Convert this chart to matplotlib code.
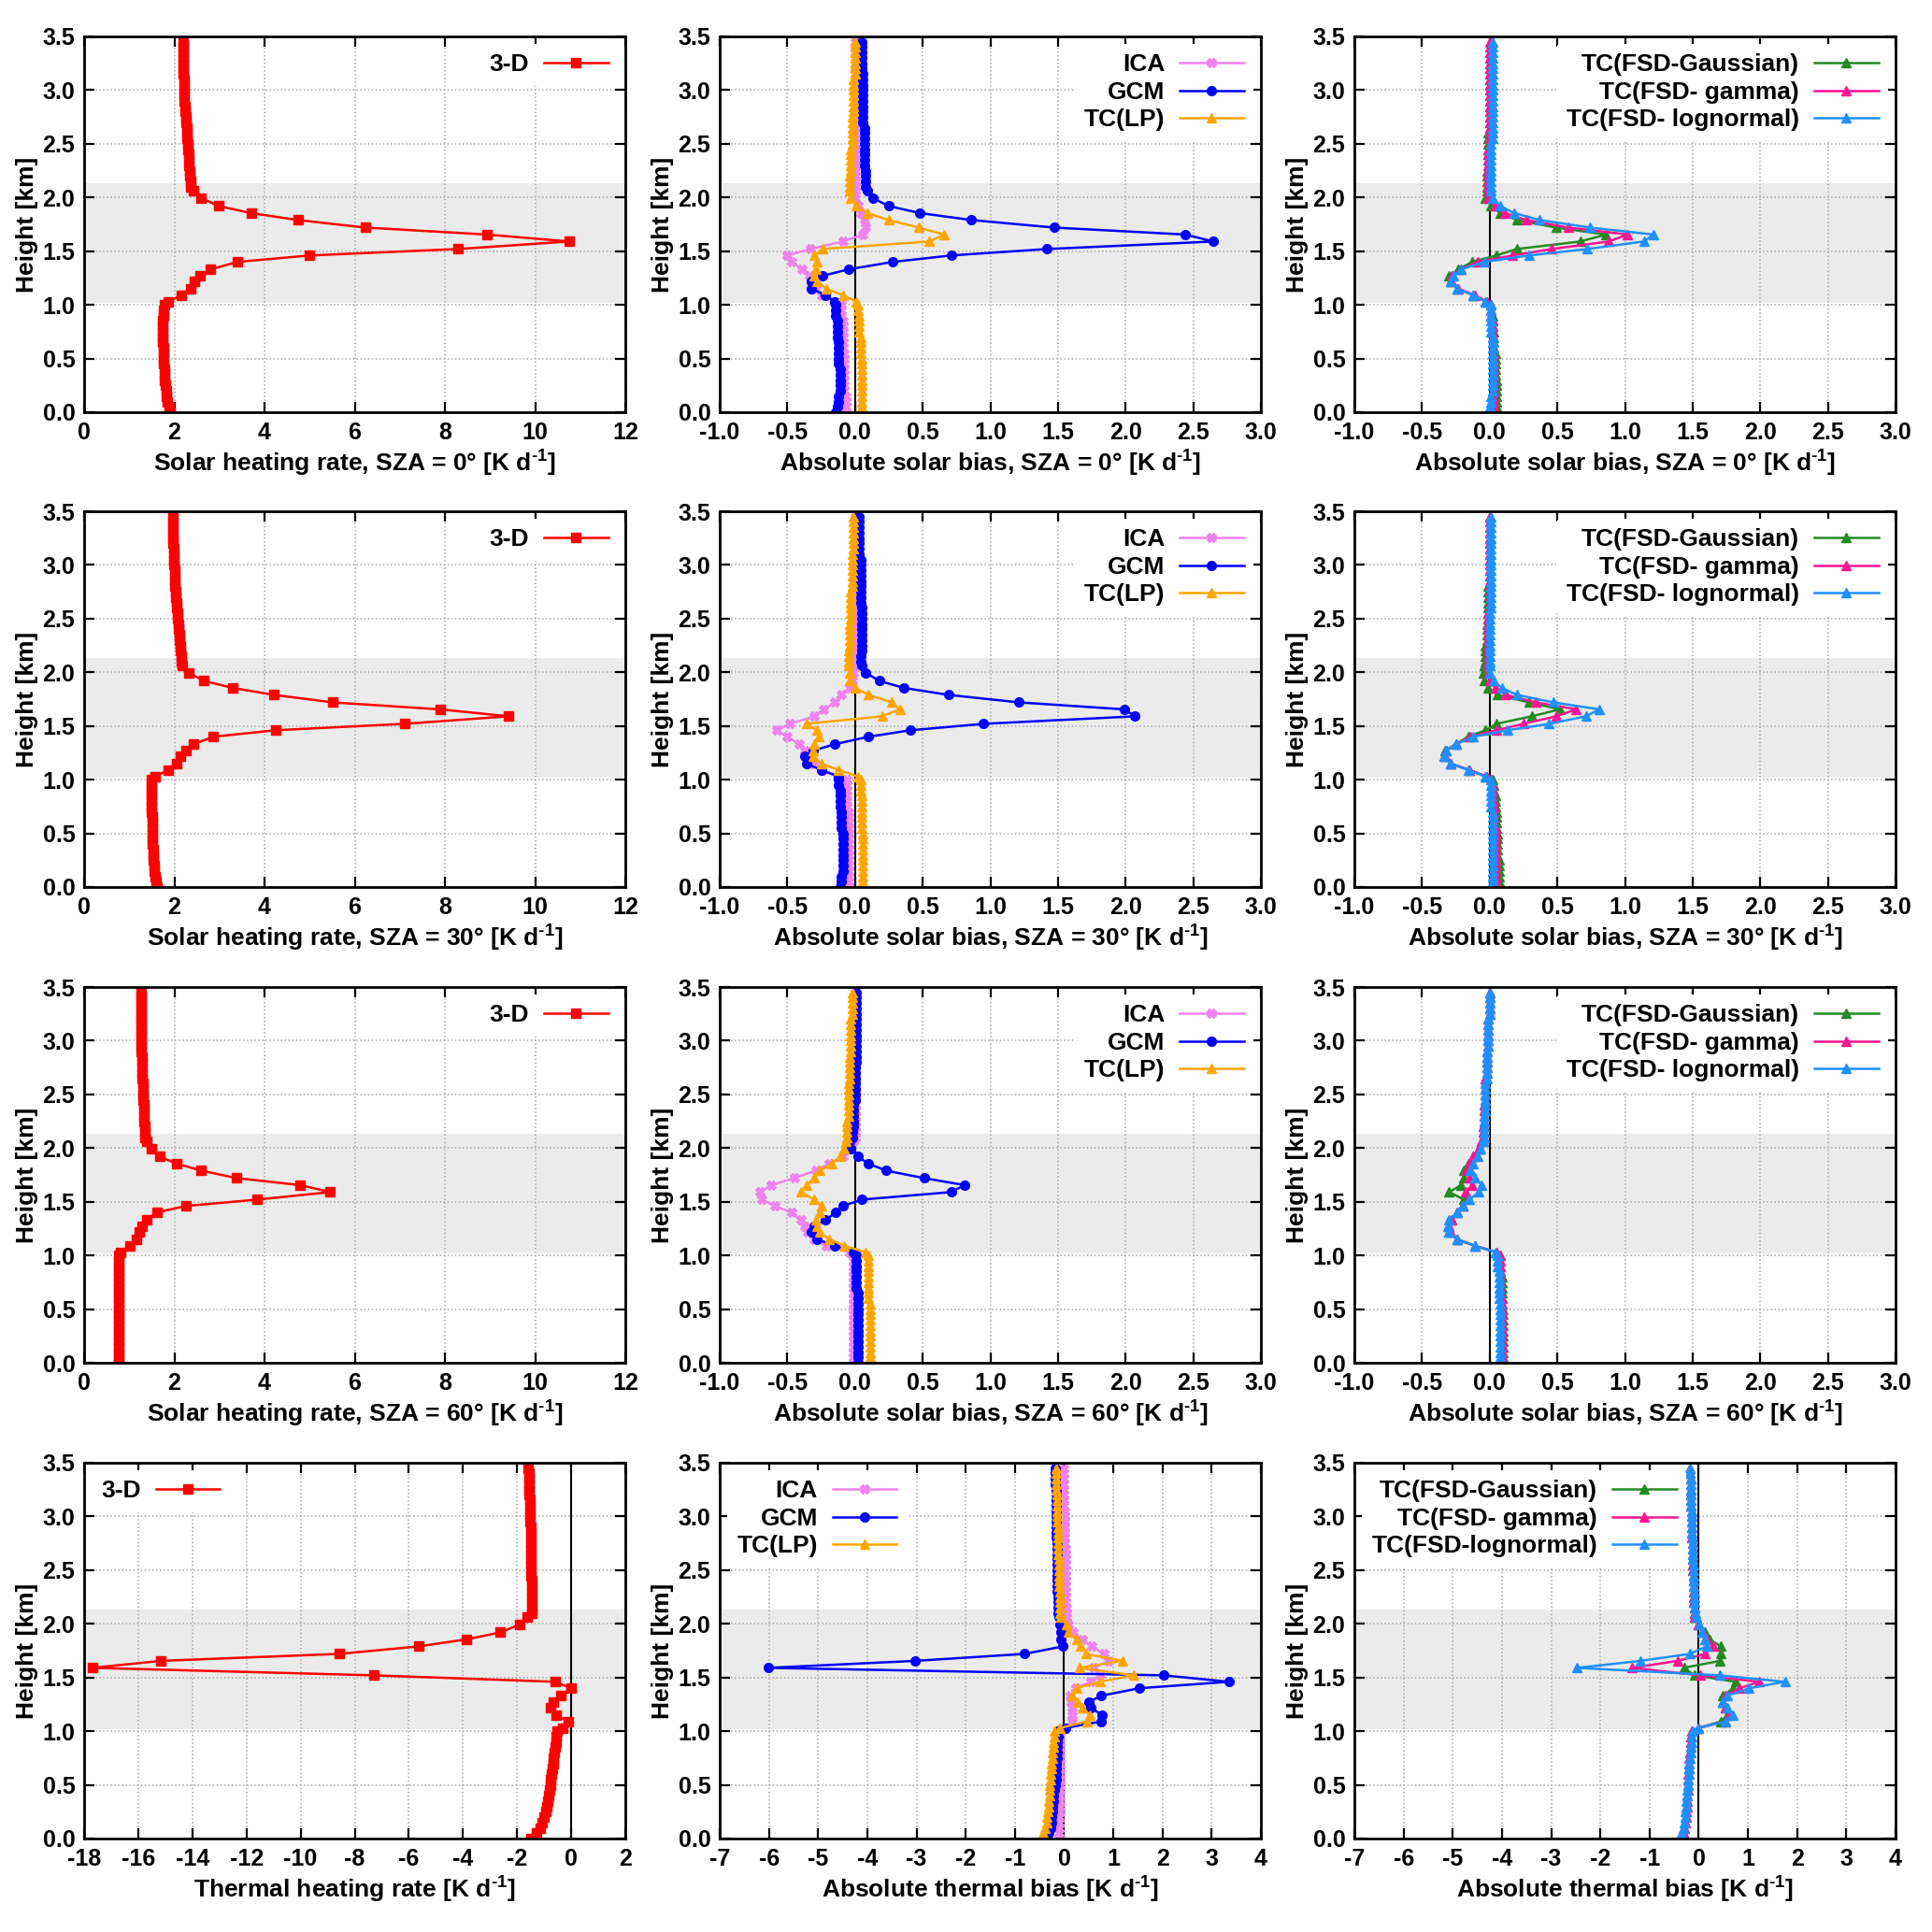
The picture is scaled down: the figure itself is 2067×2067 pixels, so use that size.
import matplotlib
matplotlib.use("Agg")
import matplotlib.pyplot as plt
from matplotlib.ticker import FormatStrFormatter

plt.rcParams['font.family'] = ['Liberation Sans Narrow', 'Liberation Sans', 'DejaVu Sans']
plt.rcParams['font.weight'] = 'bold'
plt.rcParams['axes.labelweight'] = 'bold'
plt.rcParams['mathtext.fontset'] = 'custom'
plt.rcParams['mathtext.rm'] = 'Liberation Sans:bold'
plt.rcParams['mathtext.it'] = 'Liberation Sans:bold'
plt.rcParams['mathtext.bf'] = 'Liberation Sans:bold'

# height levels [km]: below cloud / in cloud / above cloud
Z = [0.00, 0.05, 0.10, 0.15, 0.20, 0.25, 0.30, 0.35, 0.40, 0.45, 0.50, 0.55, 0.60, 0.65, 0.70, 0.75, 0.80, 0.85, 0.90, 0.95, 1.00,
     1.03, 1.09, 1.15, 1.22, 1.27, 1.33, 1.40, 1.46, 1.52, 1.59, 1.655, 1.72, 1.79, 1.855, 1.92, 1.995, 2.06,
     2.10, 2.15, 2.20, 2.25, 2.30, 2.35, 2.40, 2.45, 2.50, 2.55, 2.60, 2.65, 2.70, 2.75, 2.80, 2.85, 2.90, 2.95,
     3.00, 3.05, 3.10, 3.15, 3.20, 3.25, 3.30, 3.35, 3.40, 3.45]

# ---- 3-D heating rates ----
hr3d_0 = [1.91, 1.88, 1.85, 1.83, 1.82, 1.80, 1.79, 1.78, 1.78, 1.77, 1.77, 1.76, 1.76, 1.75, 1.75, 1.75, 1.75, 1.75, 1.76, 1.77, 1.78,
          1.86, 2.16, 2.36, 2.45, 2.58, 2.80, 3.40, 5.00, 8.29, 10.75, 8.93, 6.23, 4.74, 3.70, 2.98, 2.60, 2.43,
          2.37, 2.36, 2.35, 2.34, 2.33, 2.33, 2.32, 2.31, 2.30, 2.29, 2.28, 2.27, 2.26, 2.25, 2.24, 2.23, 2.22, 2.22, 2.21, 2.21,
          2.21, 2.20, 2.20, 2.20, 2.20, 2.20, 2.20, 2.20]
hr3d_30 = [1.61, 1.59, 1.57, 1.56, 1.55, 1.54, 1.53, 1.53, 1.52, 1.52, 1.52, 1.51, 1.51, 1.51, 1.50, 1.50, 1.50, 1.50, 1.50, 1.50, 1.50,
           1.57, 1.87, 2.05, 2.13, 2.25, 2.42, 2.87, 4.24, 7.10, 9.41, 7.89, 5.51, 4.20, 3.29, 2.66, 2.32, 2.18,
           2.16, 2.15, 2.14, 2.13, 2.12, 2.11, 2.10, 2.09, 2.08, 2.07, 2.06, 2.05, 2.04, 2.03, 2.02, 2.01, 2.00, 2.00, 1.99, 1.99,
           1.98, 1.98, 1.97, 1.97, 1.97, 1.96, 1.96, 1.96]
hr3d_60 = [0.77, 0.77, 0.77, 0.76, 0.76, 0.76, 0.76, 0.76, 0.76, 0.76, 0.76, 0.76, 0.76, 0.76, 0.76, 0.76, 0.76, 0.76, 0.76, 0.76, 0.76,
           0.81, 1.02, 1.17, 1.23, 1.29, 1.38, 1.61, 2.25, 3.84, 5.46, 4.79, 3.38, 2.60, 2.05, 1.68, 1.50, 1.38,
           1.35, 1.34, 1.34, 1.33, 1.33, 1.32, 1.32, 1.31, 1.31, 1.30, 1.30, 1.29, 1.29, 1.28, 1.28, 1.28, 1.27, 1.27, 1.27, 1.27,
           1.26, 1.26, 1.26, 1.26, 1.26, 1.26, 1.26, 1.26]
hr3d_lw = [-1.48, -1.28, -1.13, -1.06, -1.00, -0.95, -0.90, -0.86, -0.83, -0.80, -0.77, -0.75, -0.72, -0.70, -0.67, -0.65, -0.62, -0.60, -0.57, -0.55, -0.52,
           -0.32, -0.10, -0.56, -0.78, -0.67, -0.40, 0.00, -0.59, -7.28, -17.69, -15.16, -8.57, -5.63, -3.87, -2.62, -1.89, -1.62,
           -1.46, -1.46, -1.46, -1.47, -1.47, -1.47, -1.47, -1.48, -1.48, -1.48, -1.48, -1.49, -1.49, -1.49, -1.50, -1.50, -1.50, -1.51, -1.51, -1.52,
           -1.53, -1.54, -1.55, -1.55, -1.56, -1.57, -1.57, -1.58]

# ---- ICA / GCM / TC(LP) biases ----
ica_0 = [-0.07, -0.07, -0.07, -0.07, -0.08, -0.08, -0.08, -0.08, -0.08, -0.08, -0.08, -0.08, -0.09, -0.09, -0.09, -0.09, -0.09, -0.09, -0.10, -0.10, -0.10,
         -0.15, -0.25, -0.29, -0.32, -0.34, -0.39, -0.47, -0.50, -0.33, -0.09, 0.06, 0.08, 0.07, 0.04, 0.02, 0.00, 0.00,
         0.00, 0.00, 0.00, 0.00, 0.00, 0.00, 0.00, 0.00, 0.00, 0.00, 0.00, 0.00, 0.00, 0.00, 0.00, 0.00, 0.00, 0.00, 0.00, 0.00,
         0.00, 0.00, 0.00, 0.00, 0.00, 0.00, 0.00, 0.00]
gcm_0 = [-0.14, -0.13, -0.12, -0.12, -0.11, -0.11, -0.11, -0.11, -0.11, -0.12, -0.12, -0.12, -0.12, -0.12, -0.13, -0.13, -0.13, -0.13, -0.14, -0.14, -0.14,
         -0.15, -0.22, -0.32, -0.32, -0.24, -0.05, 0.28, 0.71, 1.42, 2.65, 2.44, 1.47, 0.86, 0.48, 0.25, 0.13, 0.09,
         0.08, 0.08, 0.08, 0.08, 0.07, 0.07, 0.07, 0.07, 0.07, 0.07, 0.07, 0.07, 0.06, 0.06, 0.06, 0.06, 0.06, 0.06, 0.06, 0.06,
         0.06, 0.06, 0.05, 0.05, 0.05, 0.05, 0.05, 0.05]
lp_0 = [0.04, 0.05, 0.05, 0.05, 0.05, 0.05, 0.05, 0.05, 0.05, 0.05, 0.05, 0.04, 0.04, 0.04, 0.04, 0.03, 0.03, 0.03, 0.03, 0.02, 0.02,
        0.01, -0.09, -0.21, -0.28, -0.30, -0.29, -0.28, -0.30, -0.24, 0.55, 0.66, 0.47, 0.25, 0.09, 0.01, -0.03, -0.04,
        -0.04, -0.04, -0.04, -0.03, -0.03, -0.03, -0.03, -0.03, -0.02, -0.02, -0.02, -0.02, -0.02, -0.02, -0.01, -0.01, -0.01, -0.01, -0.01, -0.01,
        -0.01, 0.00, 0.00, 0.00, 0.00, 0.00, 0.00, 0.00]

ica_30 = [-0.05, -0.05, -0.05, -0.05, -0.05, -0.05, -0.05, -0.05, -0.05, -0.05, -0.05, -0.05, -0.05, -0.05, -0.05, -0.06, -0.06, -0.06, -0.06, -0.06, -0.06,
          -0.13, -0.25, -0.30, -0.33, -0.37, -0.41, -0.50, -0.58, -0.48, -0.30, -0.23, -0.15, -0.10, -0.04, -0.02, -0.01, -0.01,
          0.00, 0.00, 0.00, 0.00, 0.00, 0.00, 0.00, 0.00, 0.00, 0.00, 0.00, 0.00, 0.00, 0.00, 0.00, 0.00, 0.00, 0.00, 0.00, 0.00,
          0.00, 0.00, 0.00, 0.00, 0.00, 0.00, 0.00, 0.00]
gcm_30 = [-0.11, -0.10, -0.10, -0.09, -0.09, -0.09, -0.09, -0.09, -0.09, -0.09, -0.09, -0.10, -0.10, -0.10, -0.10, -0.11, -0.11, -0.11, -0.11, -0.12, -0.12,
          -0.12, -0.25, -0.36, -0.37, -0.31, -0.15, 0.10, 0.41, 0.95, 2.07, 1.99, 1.21, 0.69, 0.36, 0.18, 0.08, 0.05,
          0.04, 0.04, 0.05, 0.05, 0.05, 0.05, 0.05, 0.05, 0.05, 0.05, 0.05, 0.04, 0.04, 0.04, 0.04, 0.04, 0.04, 0.04, 0.04, 0.04,
          0.03, 0.03, 0.03, 0.03, 0.03, 0.03, 0.03, 0.03]
lp_30 = [0.06, 0.06, 0.06, 0.06, 0.06, 0.06, 0.06, 0.06, 0.06, 0.06, 0.06, 0.05, 0.05, 0.05, 0.05, 0.05, 0.05, 0.05, 0.04, 0.04, 0.04,
         0.02, -0.12, -0.25, -0.31, -0.31, -0.30, -0.27, -0.28, -0.36, 0.20, 0.33, 0.27, 0.10, 0.00, -0.04, -0.04, -0.05,
         -0.05, -0.05, -0.05, -0.04, -0.04, -0.04, -0.04, -0.04, -0.03, -0.03, -0.03, -0.03, -0.03, -0.03, -0.02, -0.02, -0.02, -0.02, -0.02, -0.02,
         -0.02, -0.01, -0.01, -0.01, -0.01, -0.01, -0.01, -0.01]

ica_60 = [-0.01, -0.01, -0.01, -0.01, -0.01, -0.01, -0.01, -0.01, -0.01, -0.01, -0.01, -0.01, -0.01, -0.01, -0.01, -0.01, -0.01, -0.01, -0.01, -0.01, -0.01,
          -0.04, -0.21, -0.30, -0.35, -0.37, -0.40, -0.47, -0.59, -0.69, -0.70, -0.62, -0.45, -0.29, -0.19, -0.09, -0.04, -0.01,
          0.00, 0.00, 0.00, 0.00, 0.00, 0.00, 0.00, 0.00, 0.00, 0.00, 0.00, 0.00, 0.00, 0.00, 0.00, 0.00, 0.00, 0.00, 0.00, 0.00,
          0.00, 0.00, 0.00, 0.00, 0.00, 0.00, 0.00, 0.00]
gcm_60 = [0.02, 0.02, 0.02, 0.02, 0.02, 0.02, 0.02, 0.02, 0.02, 0.02, 0.02, 0.02, 0.02, 0.02, 0.01, 0.01, 0.01, 0.01, 0.01, 0.01, 0.01,
          -0.01, -0.15, -0.28, -0.32, -0.30, -0.22, -0.14, -0.09, 0.05, 0.71, 0.81, 0.51, 0.23, 0.10, 0.02, -0.03, -0.04,
          -0.02, -0.02, -0.01, -0.01, -0.01, -0.01, -0.01, 0.00, 0.00, 0.00, 0.00, 0.00, 0.00, 0.00, 0.01, 0.01, 0.01, 0.01, 0.01, 0.01,
          0.01, 0.01, 0.01, 0.01, 0.01, 0.01, 0.01, 0.01]
lp_60 = [0.11, 0.11, 0.11, 0.11, 0.11, 0.11, 0.11, 0.11, 0.11, 0.11, 0.11, 0.11, 0.10, 0.10, 0.10, 0.10, 0.10, 0.10, 0.10, 0.10, 0.10,
         0.08, -0.08, -0.19, -0.26, -0.28, -0.29, -0.26, -0.25, -0.30, -0.40, -0.36, -0.30, -0.26, -0.17, -0.11, -0.08, -0.07,
         -0.06, -0.06, -0.06, -0.06, -0.05, -0.05, -0.05, -0.05, -0.05, -0.05, -0.05, -0.04, -0.04, -0.04, -0.04, -0.04, -0.03, -0.03, -0.03, -0.03,
         -0.03, -0.03, -0.03, -0.02, -0.02, -0.02, -0.02, -0.02]

ica_lw = [-0.11, -0.10, -0.10, -0.10, -0.10, -0.09, -0.09, -0.09, -0.09, -0.09, -0.08, -0.08, -0.08, -0.08, -0.08, -0.08, -0.08, -0.08, -0.08, -0.08, -0.08,
          -0.04, 0.17, 0.17, 0.17, 0.15, 0.13, 0.23, 0.54, 0.74, 0.60, 0.91, 0.80, 0.57, 0.38, 0.18, 0.08, 0.04,
          0.04, 0.04, 0.03, 0.03, 0.03, 0.03, 0.03, 0.02, 0.02, 0.02, 0.02, 0.02, 0.02, 0.01, 0.01, 0.01, 0.01, 0.01, 0.01, 0.01,
          0.00, 0.00, 0.00, 0.00, 0.00, 0.00, 0.00, 0.00]
gcm_lw = [-0.35, -0.31, -0.28, -0.26, -0.25, -0.24, -0.23, -0.22, -0.21, -0.20, -0.18, -0.17, -0.17, -0.16, -0.16, -0.15, -0.15, -0.14, -0.14, -0.13, -0.13,
          0.02, 0.75, 0.77, 0.54, 0.50, 0.75, 1.53, 3.35, 2.03, -6.01, -3.02, -0.80, -0.02, -0.06, -0.07, -0.08, -0.11,
          -0.13, -0.13, -0.13, -0.13, -0.14, -0.14, -0.14, -0.14, -0.14, -0.15, -0.15, -0.15, -0.15, -0.15, -0.16, -0.16, -0.16, -0.16, -0.17, -0.17,
          -0.17, -0.17, -0.17, -0.17, -0.18, -0.18, -0.18, -0.18]
lp_lw = [-0.46, -0.42, -0.38, -0.36, -0.35, -0.33, -0.32, -0.31, -0.30, -0.29, -0.29, -0.28, -0.27, -0.26, -0.25, -0.24, -0.23, -0.22, -0.21, -0.20, -0.19,
         -0.08, 0.46, 0.52, 0.38, 0.27, 0.17, 0.25, 0.73, 1.41, 0.32, 1.19, 0.44, 0.34, 0.25, 0.08, 0.04, -0.06,
         -0.08, -0.08, -0.09, -0.09, -0.09, -0.10, -0.10, -0.10, -0.11, -0.11, -0.11, -0.12, -0.12, -0.12, -0.13, -0.13, -0.13, -0.14, -0.14, -0.14,
         -0.15, -0.15, -0.15, -0.16, -0.16, -0.16, -0.17, -0.17]

# ---- TC with FSD: Gaussian / gamma / lognormal ----
gau_0 = [0.05, 0.05, 0.05, 0.05, 0.05, 0.05, 0.05, 0.04, 0.04, 0.04, 0.04, 0.04, 0.03, 0.03, 0.03, 0.03, 0.02, 0.02, 0.02, 0.01, 0.01,
         -0.03, -0.12, -0.24, -0.29, -0.30, -0.23, -0.13, 0.05, 0.20, 0.67, 0.86, 0.49, 0.20, 0.08, 0.01, -0.03, -0.02,
         -0.02, -0.02, -0.02, -0.02, -0.01, -0.01, -0.01, -0.01, -0.01, -0.01, -0.01, 0.00, 0.00, 0.00, 0.00, 0.00, 0.00, 0.00, 0.00, 0.00,
         0.00, 0.00, 0.00, 0.00, 0.00, 0.00, 0.01, 0.01]
gam_0 = [0.03, 0.03, 0.03, 0.03, 0.03, 0.03, 0.03, 0.03, 0.03, 0.03, 0.03, 0.03, 0.02, 0.02, 0.02, 0.02, 0.02, 0.02, 0.01, 0.01, 0.01,
         -0.02, -0.11, -0.23, -0.28, -0.28, -0.21, -0.09, 0.17, 0.46, 0.88, 1.02, 0.58, 0.27, 0.11, 0.04, -0.01, -0.01,
         -0.01, -0.01, -0.01, -0.01, -0.01, -0.01, -0.01, -0.01, 0.00, 0.00, 0.00, 0.00, 0.00, 0.00, 0.00, 0.00, 0.00, 0.00, 0.00, 0.00,
         0.00, 0.00, 0.00, 0.00, 0.00, 0.00, 0.00, 0.00]
log_0 = [-0.01, 0.00, 0.01, 0.01, 0.02, 0.02, 0.02, 0.02, 0.02, 0.02, 0.02, 0.02, 0.02, 0.02, 0.02, 0.01, 0.01, 0.01, 0.01, 0.01, 0.01,
         -0.03, -0.12, -0.24, -0.29, -0.27, -0.21, -0.04, 0.29, 0.72, 1.14, 1.21, 0.74, 0.37, 0.18, 0.08, 0.02, 0.01,
         0.01, 0.01, 0.01, 0.01, 0.01, 0.01, 0.01, 0.01, 0.01, 0.02, 0.02, 0.02, 0.02, 0.02, 0.02, 0.02, 0.02, 0.02, 0.02, 0.02,
         0.02, 0.02, 0.02, 0.02, 0.02, 0.02, 0.02, 0.02]

gau_30 = [0.07, 0.07, 0.07, 0.07, 0.07, 0.07, 0.06, 0.06, 0.06, 0.06, 0.06, 0.05, 0.05, 0.05, 0.05, 0.04, 0.04, 0.04, 0.03, 0.03, 0.02,
          -0.03, -0.15, -0.29, -0.34, -0.33, -0.25, -0.16, -0.03, 0.05, 0.31, 0.52, 0.29, 0.06, -0.01, -0.04, -0.05, -0.04,
          -0.03, -0.03, -0.03, -0.03, -0.02, -0.02, -0.02, -0.02, -0.01, -0.01, -0.01, -0.01, -0.01, -0.01, -0.01, 0.00, 0.00, 0.00, 0.00, 0.00,
          0.00, 0.00, 0.00, 0.00, 0.00, 0.00, 0.00, 0.00]
gam_30 = [0.04, 0.04, 0.04, 0.04, 0.04, 0.04, 0.04, 0.04, 0.04, 0.04, 0.04, 0.04, 0.03, 0.03, 0.03, 0.03, 0.03, 0.02, 0.02, 0.02, 0.01,
          -0.02, -0.15, -0.29, -0.33, -0.32, -0.25, -0.14, 0.05, 0.25, 0.49, 0.64, 0.34, 0.12, 0.04, 0.00, -0.01, -0.01,
          -0.01, -0.01, -0.01, -0.01, -0.01, -0.01, -0.01, -0.01, -0.01, -0.01, 0.00, 0.00, 0.00, 0.00, 0.00, 0.00, 0.00, 0.00, 0.00, 0.00,
          0.00, 0.00, 0.00, 0.00, 0.00, 0.00, 0.00, 0.00]
log_30 = [0.02, 0.02, 0.02, 0.02, 0.02, 0.02, 0.02, 0.02, 0.02, 0.02, 0.02, 0.02, 0.02, 0.02, 0.02, 0.01, 0.01, 0.01, 0.01, 0.01, 0.01,
          -0.03, -0.16, -0.29, -0.34, -0.32, -0.25, -0.12, 0.13, 0.44, 0.71, 0.81, 0.47, 0.20, 0.09, 0.03, 0.00, 0.00,
          0.00, 0.00, 0.00, 0.00, 0.00, 0.00, 0.00, 0.00, 0.00, 0.00, 0.01, 0.01, 0.01, 0.01, 0.01, 0.01, 0.01, 0.01, 0.01, 0.01,
          0.01, 0.01, 0.01, 0.01, 0.01, 0.01, 0.01, 0.01]

gau_60 = [0.10, 0.10, 0.10, 0.10, 0.10, 0.10, 0.10, 0.10, 0.10, 0.10, 0.10, 0.09, 0.09, 0.09, 0.09, 0.09, 0.09, 0.08, 0.08, 0.08, 0.08,
          0.05, -0.11, -0.24, -0.30, -0.30, -0.28, -0.24, -0.20, -0.19, -0.30, -0.21, -0.19, -0.19, -0.16, -0.12, -0.08, -0.06,
          -0.05, -0.05, -0.05, -0.04, -0.04, -0.04, -0.04, -0.03, -0.03, -0.03, -0.03, -0.03, -0.02, -0.02, -0.02, -0.02, -0.02, -0.01, -0.01, -0.01,
          -0.01, -0.01, -0.01, 0.00, 0.00, 0.00, 0.00, 0.00]
gam_60 = [0.09, 0.09, 0.09, 0.09, 0.09, 0.09, 0.09, 0.09, 0.09, 0.09, 0.09, 0.09, 0.09, 0.08, 0.08, 0.08, 0.08, 0.08, 0.08, 0.08, 0.08,
          0.05, -0.11, -0.24, -0.29, -0.30, -0.28, -0.24, -0.20, -0.16, -0.18, -0.13, -0.15, -0.17, -0.15, -0.12, -0.08, -0.06,
          -0.05, -0.05, -0.05, -0.04, -0.04, -0.04, -0.04, -0.03, -0.03, -0.03, -0.03, -0.03, -0.02, -0.02, -0.02, -0.02, -0.02, -0.01, -0.01, -0.01,
          -0.01, -0.01, -0.01, 0.00, 0.00, 0.00, 0.00, 0.00]
log_60 = [0.08, 0.08, 0.08, 0.08, 0.08, 0.08, 0.08, 0.08, 0.08, 0.08, 0.08, 0.08, 0.07, 0.07, 0.07, 0.07, 0.07, 0.07, 0.06, 0.06, 0.06,
          0.04, -0.11, -0.24, -0.30, -0.31, -0.30, -0.24, -0.20, -0.15, -0.08, -0.06, -0.11, -0.14, -0.12, -0.09, -0.07, -0.05,
          -0.04, -0.04, -0.04, -0.04, -0.04, -0.03, -0.03, -0.03, -0.03, -0.03, -0.03, -0.02, -0.02, -0.02, -0.02, -0.02, -0.02, -0.01, -0.01, -0.01,
          -0.01, -0.01, -0.01, 0.00, 0.00, 0.00, 0.00, 0.00]

gau_lw = [-0.34, -0.31, -0.29, -0.27, -0.26, -0.25, -0.24, -0.23, -0.23, -0.22, -0.22, -0.21, -0.20, -0.20, -0.19, -0.18, -0.18, -0.17, -0.16, -0.16, -0.15,
          -0.01, 0.45, 0.58, 0.54, 0.49, 0.49, 0.70, 0.75, -0.09, -0.30, 0.43, 0.45, 0.45, 0.22, 0.12, -0.01, -0.08,
          -0.09, -0.09, -0.10, -0.10, -0.10, -0.11, -0.11, -0.11, -0.12, -0.12, -0.12, -0.13, -0.13, -0.13, -0.14, -0.14, -0.14, -0.15, -0.15, -0.15,
          -0.16, -0.16, -0.16, -0.17, -0.17, -0.17, -0.18, -0.18]
gam_lw = [-0.35, -0.31, -0.29, -0.27, -0.26, -0.25, -0.24, -0.24, -0.23, -0.22, -0.22, -0.21, -0.21, -0.20, -0.19, -0.19, -0.18, -0.17, -0.17, -0.16, -0.15,
          -0.01, 0.54, 0.62, 0.54, 0.49, 0.54, 0.83, 1.23, 0.03, -1.35, -0.43, 0.13, 0.29, 0.16, 0.08, -0.01, -0.08,
          -0.09, -0.09, -0.10, -0.10, -0.10, -0.11, -0.11, -0.11, -0.12, -0.12, -0.12, -0.13, -0.13, -0.13, -0.14, -0.14, -0.14, -0.15, -0.15, -0.15,
          -0.16, -0.16, -0.16, -0.17, -0.17, -0.17, -0.18, -0.18]
log_lw = [-0.39, -0.35, -0.32, -0.30, -0.28, -0.27, -0.26, -0.25, -0.24, -0.23, -0.22, -0.21, -0.20, -0.19, -0.19, -0.18, -0.17, -0.16, -0.15, -0.14, -0.13,
          -0.01, 0.55, 0.69, 0.58, 0.49, 0.58, 1.02, 1.75, 0.43, -2.47, -1.18, -0.18, 0.16, 0.12, 0.06, 0.01, -0.05,
          -0.07, -0.08, -0.08, -0.09, -0.09, -0.10, -0.10, -0.11, -0.11, -0.11, -0.12, -0.12, -0.13, -0.13, -0.13, -0.14, -0.14, -0.14, -0.15, -0.15,
          -0.16, -0.16, -0.16, -0.17, -0.17, -0.17, -0.18, -0.18]

CLOUD_BASE, CLOUD_TOP = 1.02, 2.13

STY = {
    '3-D': ('#ff0000', 's', 6.5),
    'ICA': ('#ee82ee', 'X', 6.5),
    'GCM': ('#0000ff', 'o', 7),
    'TC(LP)': ('#ffa500', '^', 7),
    'TC(FSD-Gaussian)': ('#228b22', '^', 7),
    'TC(FSD- gamma)': ('#ff1493', '^', 7),
    'TC(FSD- lognormal)': ('#1e90ff', '^', 7),
    'TC(FSD-lognormal)': ('#1e90ff', '^', 7),
}

W = 2067
fig = plt.figure(figsize=(20.67, 20.67), dpi=100)
col_left = [90, 770, 1449]
row_top = [39, 547, 1056, 1565]
aw, ah = 579, 402


def draw(r, c, series, xlim, xticks, xfmt, xlabel, loc, zero=True):
    ax = fig.add_axes([col_left[c] / W, 1 - (row_top[r] + ah) / W, aw / W, ah / W])
    ax.axhspan(CLOUD_BASE, CLOUD_TOP, color='#ebebeb', lw=0, zorder=0)
    ax.set_axisbelow(True)
    ax.grid(True, ls=':', color='#a8a8a8', lw=1.1)
    if zero:
        ax.axvline(0, color='k', lw=1.5, zorder=1.5)
    for name, xs in series:
        col, mk, ms = STY[name]
        ax.plot(xs, Z, color=col, marker=mk, ms=ms, lw=1.8, label=name, zorder=2)
    ax.set_xlim(*xlim)
    ax.set_ylim(0, 3.5)
    ax.set_xticks(xticks)
    ax.set_yticks([0, 0.5, 1.0, 1.5, 2.0, 2.5, 3.0, 3.5])
    ax.xaxis.set_major_formatter(FormatStrFormatter(xfmt))
    ax.yaxis.set_major_formatter(FormatStrFormatter('%.1f'))
    ax.tick_params(direction='in', top=True, right=True, length=8, width=1.6,
                   labelsize=18, pad=7)
    for s in ax.spines.values():
        s.set_linewidth(2)
    ax.set_xlabel(xlabel, fontsize=19, labelpad=4)
    ax.set_ylabel('Height [km]', fontsize=19, labelpad=3)
    leg = ax.legend(loc=loc, markerfirst=False, fontsize=19, handlelength=2.6,
                    frameon=True, facecolor='white', edgecolor='none', framealpha=1,
                    borderaxespad=0.3, labelspacing=0.2, handletextpad=0.6)
    leg.set_zorder(3)
    return ax


UNIT = r' [K d$^{\text{-1}}$]'
solar_ticks = [-1.0, -0.5, 0.0, 0.5, 1.0, 1.5, 2.0, 2.5, 3.0]
therm_ticks = [-7, -6, -5, -4, -3, -2, -1, 0, 1, 2, 3, 4]

for r, (sza, hr, ica, gcm, lp, gau, gam, lgn) in enumerate([
        ('0', hr3d_0, ica_0, gcm_0, lp_0, gau_0, gam_0, log_0),
        ('30', hr3d_30, ica_30, gcm_30, lp_30, gau_30, gam_30, log_30),
        ('60', hr3d_60, ica_60, gcm_60, lp_60, gau_60, gam_60, log_60)]):
    draw(r, 0, [('3-D', hr)], (0, 12), [0, 2, 4, 6, 8, 10, 12], '%d',
         'Solar heating rate, SZA = ' + sza + '°' + UNIT, 'upper right', zero=False)
    draw(r, 1, [('ICA', ica), ('GCM', gcm), ('TC(LP)', lp)], (-1, 3), solar_ticks, '%.1f',
         'Absolute solar bias, SZA = ' + sza + '°' + UNIT, 'upper right')
    draw(r, 2, [('TC(FSD-Gaussian)', gau), ('TC(FSD- gamma)', gam), ('TC(FSD- lognormal)', lgn)],
         (-1, 3), solar_ticks, '%.1f',
         'Absolute solar bias, SZA = ' + sza + '°' + UNIT, 'upper right')

draw(3, 0, [('3-D', hr3d_lw)], (-18, 2), list(range(-18, 3, 2)), '%d',
     'Thermal heating rate' + UNIT, 'upper left')
draw(3, 1, [('ICA', ica_lw), ('GCM', gcm_lw), ('TC(LP)', lp_lw)], (-7, 4), therm_ticks, '%d',
     'Absolute thermal bias' + UNIT, 'upper left')
draw(3, 2, [('TC(FSD-Gaussian)', gau_lw), ('TC(FSD- gamma)', gam_lw), ('TC(FSD-lognormal)', log_lw)],
     (-7, 4), therm_ticks, '%d', 'Absolute thermal bias' + UNIT, 'upper left')

fig.savefig('out.png', dpi=100)
